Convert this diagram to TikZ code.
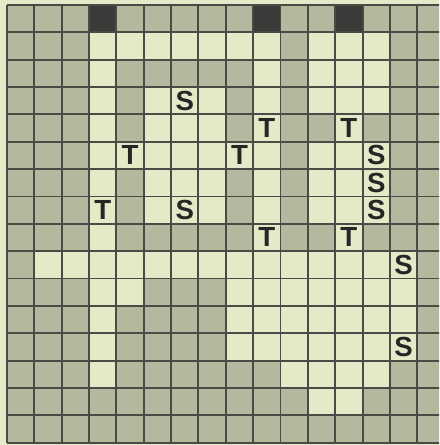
\documentclass[tikz,border=0pt]{standalone}
\usepackage{fontspec}
\setsansfont{Liberation Sans}
\definecolor{paper}{HTML}{E2EAC8}
\definecolor{dotted}{HTML}{B3B99E}
\definecolor{linegray}{HTML}{4A4B45}
\definecolor{block}{HTML}{3A3B38}
\tikzset{
  letter/.style={font=\sffamily\bfseries\fontsize{23}{23}\selectfont,text=black!85,inner sep=0pt},
  gridline/.style={linegray,line width=1.6pt,step=0.8cm}
}
\begin{document}
\begin{tikzpicture}[x=0.8cm,y=0.8cm]
        \useasboundingbox (-0.256,0.183) rectangle (15.795,-16.087);
        \clip (-0.256,0.183) rectangle (15.795,-16.087);
        \fill[paper] (-0.256,0.183) rectangle (15.795,-16.087);
        % shaded board
        \fill[fill=dotted] (0,-16) rectangle (16,0);
        % open cells: col0/row0/col1/row1
        \foreach \ca/\ra/\cb/\rb in {3/1/3/13,3/1/9/1,11/1/13/3,9/1/9/12,5/3/7/7,3/5/9/5,
            11/5/13/7,12/1/12/9,1/9/14/9,8/10/14/12,4/10/4/10,10/13/13/13,11/14/12/14}
            \fill[paper] (\ca,-\ra) rectangle ({\cb+1},{-\rb-1});
        % black blocks on top row
        \foreach \c in {3,9,12}
            \fill[block] (\c,0) rectangle ({\c+1},-1);
        \draw[gridline] (0,-16) grid (16,0);
        % letters
        \node[letter] (s1) at (6.5,-3.5) {S};
        \node[letter] (s2) at (6.5,-7.5) {S};
        \node[letter] (s3) at (13.5,-5.5) {S};
        \node[letter] (s4) at (13.5,-6.5) {S};
        \node[letter] (s5) at (13.5,-7.5) {S};
        \node[letter] (s6) at (14.5,-9.5) {S};
        \node[letter] (s7) at (14.5,-12.5) {S};
        \node[letter] (t1) at (4.5,-5.5) {T};
        \node[letter] (t2) at (8.5,-5.5) {T};
        \node[letter] (t3) at (3.5,-7.5) {T};
        \node[letter] (t4) at (9.5,-4.5) {T};
        \node[letter] (t5) at (12.5,-4.5) {T};
        \node[letter] (t6) at (9.5,-8.5) {T};
        \node[letter] (t7) at (12.5,-8.5) {T};
    \end{tikzpicture}
\end{document}
